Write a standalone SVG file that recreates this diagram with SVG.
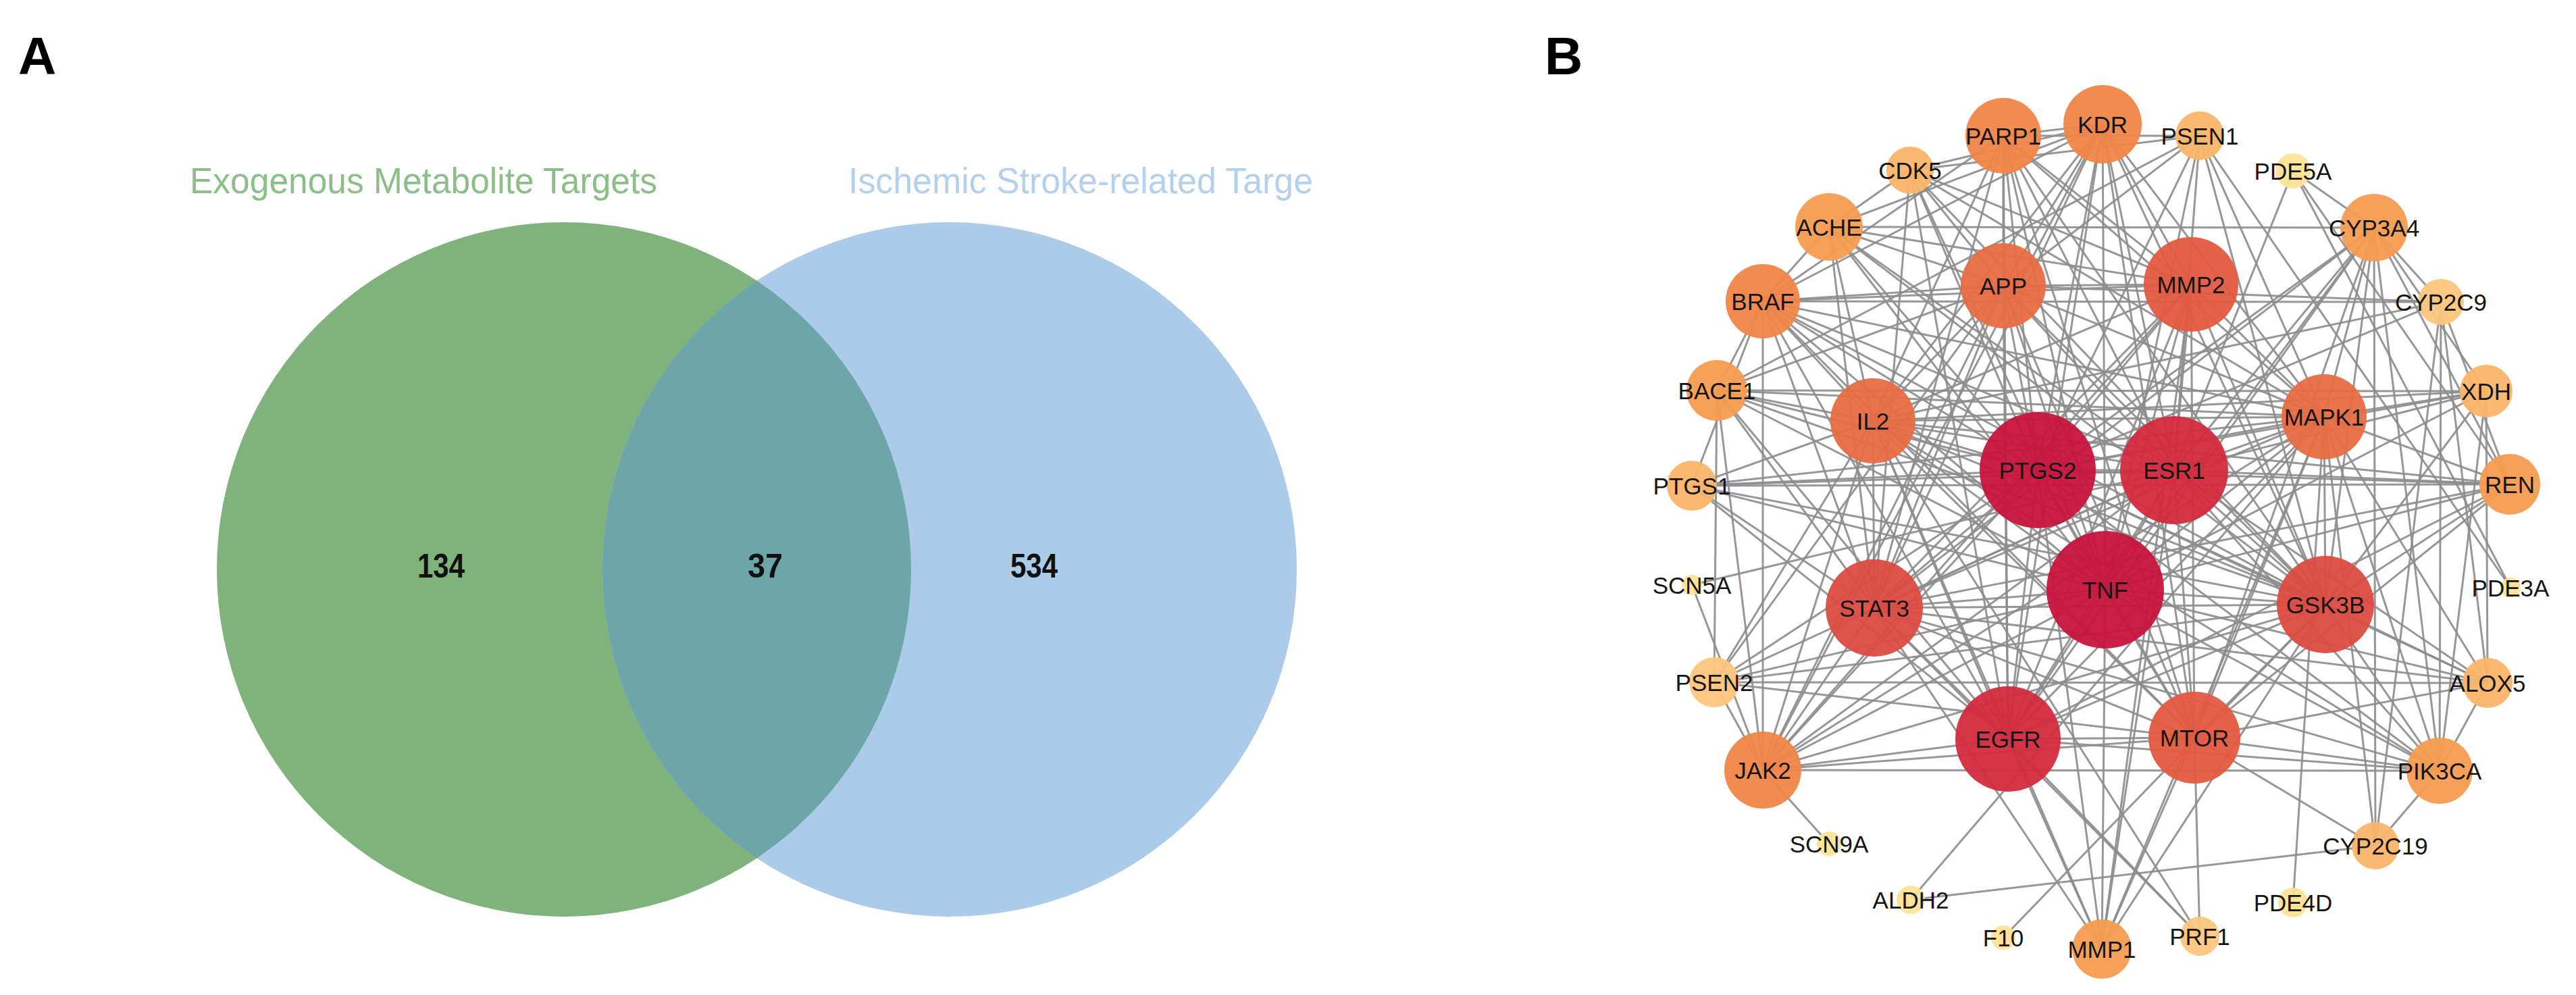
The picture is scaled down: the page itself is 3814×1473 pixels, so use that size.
<svg xmlns="http://www.w3.org/2000/svg" width="3814" height="1473" viewBox="0 0 3814 1473">
<style>
.panel{font-family:"Liberation Sans",Arial,sans-serif;font-weight:bold;font-size:78px;fill:#000}
.setlab{font-family:"Liberation Sans",Arial,sans-serif;font-size:54px}
.num{font-family:"Liberation Sans",Arial,sans-serif;font-weight:bold;font-size:50px;fill:#111;text-anchor:middle}
.edges path{stroke:#8c8c8c;stroke-width:3;fill:none;stroke-opacity:0.9}
.node circle{stroke:none;fill-opacity:0.95}
.node text{font-family:"Liberation Sans",Arial,sans-serif;font-size:35px;fill:#151515;text-anchor:middle}
.c1{fill:#c8143b}.c1b{fill:#d22b3d}.c2{fill:#dc4a40}.c3{fill:#e25a3f}.c3b{fill:#e86b41}
.c4{fill:#f08547}.c5{fill:#f79b51}.c6{fill:#fbb468}.c7{fill:#fcc57b}.c8{fill:#fde394}
</style>
<defs>
<clipPath id="blueClip"><circle cx="1406" cy="843" r="514"/></clipPath>
</defs>
<rect width="3814" height="1473" fill="#fff"/>
<text class="panel" x="27" y="110">A</text>
<text class="panel" x="2287" y="110">B</text>
<g id="venn">
<circle id="setGreen" cx="835" cy="843" r="514" fill="#80b27c"/>
<circle id="setBlue" cx="1406" cy="843" r="514" fill="#abcbe8"/>
<circle id="overlap" cx="835" cy="843" r="514" fill="#6ca6a8" clip-path="url(#blueClip)"/>
<text class="setlab" x="281" y="286" fill="#8cbf88" textLength="692" lengthAdjust="spacingAndGlyphs">Exogenous Metabolite Targets</text>
<text class="setlab" x="1256" y="286" fill="#b3d0ee" textLength="688" lengthAdjust="spacingAndGlyphs">Ischemic Stroke-related Targe</text>
<text class="num" x="653" y="855" textLength="70" lengthAdjust="spacingAndGlyphs">134</text>
<text class="num" x="1133" y="855" textLength="52" lengthAdjust="spacingAndGlyphs">37</text>
<text class="num" x="1531" y="855" textLength="70" lengthAdjust="spacingAndGlyphs">534</text>
</g>
<g id="connectors" class="edges">
<path d="M2966 423L3244 421"/><path d="M2966 423L3441 617"/><path d="M2966 423L3443 895"/><path d="M2966 423L3249 1092"/><path d="M2966 423L2973 1094"/><path d="M2966 423L2775 900"/><path d="M2966 423L2773 623"/><path d="M2966 423L3017 696"/><path d="M2966 423L3219 696"/><path d="M2966 423L3117 873"/>
<path d="M3244 421L3441 617"/><path d="M3244 421L3443 895"/><path d="M3244 421L3249 1092"/><path d="M3244 421L2973 1094"/><path d="M3244 421L2775 900"/><path d="M3244 421L2773 623"/><path d="M3244 421L3017 696"/><path d="M3244 421L3219 696"/><path d="M3244 421L3117 873"/>
<path d="M3441 617L3443 895"/><path d="M3441 617L3249 1092"/><path d="M3441 617L2973 1094"/><path d="M3441 617L2775 900"/><path d="M3441 617L2773 623"/><path d="M3441 617L3017 696"/><path d="M3441 617L3219 696"/><path d="M3441 617L3117 873"/>
<path d="M3443 895L3249 1092"/><path d="M3443 895L2973 1094"/><path d="M3443 895L2775 900"/><path d="M3443 895L2773 623"/><path d="M3443 895L3017 696"/><path d="M3443 895L3219 696"/><path d="M3443 895L3117 873"/>
<path d="M3249 1092L2973 1094"/><path d="M3249 1092L2775 900"/><path d="M3249 1092L2773 623"/><path d="M3249 1092L3017 696"/><path d="M3249 1092L3219 696"/><path d="M3249 1092L3117 873"/>
<path d="M2973 1094L2775 900"/><path d="M2973 1094L2773 623"/><path d="M2973 1094L3017 696"/><path d="M2973 1094L3219 696"/><path d="M2973 1094L3117 873"/>
<path d="M2775 900L2773 623"/><path d="M2775 900L3017 696"/><path d="M2775 900L3219 696"/><path d="M2775 900L3117 873"/>
<path d="M2773 623L3017 696"/><path d="M2773 623L3219 696"/><path d="M2773 623L3117 873"/>
<path d="M3017 696L3219 696"/><path d="M3017 696L3117 873"/><path d="M3219 696L3117 873"/>
<path d="M2966 201L3113 184"/><path d="M2966 201L2966 423"/><path d="M2966 201L3244 421"/><path d="M2966 201L3017 696"/><path d="M2966 201L3219 696"/><path d="M2966 201L3117 873"/><path d="M2966 201L2775 900"/><path d="M2966 201L2973 1094"/><path d="M2966 201L2773 623"/><path d="M2966 201L3443 895"/><path d="M2966 201L3249 1092"/><path d="M2966 201L2610 446"/><path d="M2966 201L3441 617"/>
<path d="M3113 184L2966 423"/><path d="M3113 184L3244 421"/><path d="M3113 184L3017 696"/><path d="M3113 184L3219 696"/><path d="M3113 184L3117 873"/><path d="M3113 184L2973 1094"/><path d="M3113 184L2775 900"/><path d="M3113 184L3441 617"/><path d="M3113 184L3443 895"/><path d="M3113 184L3249 1092"/><path d="M3113 184L2773 623"/><path d="M3113 184L2708 336"/><path d="M3113 184L2610 446"/><path d="M3113 184L2610 1140"/><path d="M3113 184L2828 252"/>
<path d="M3257 201L2966 423"/><path d="M3257 201L3017 696"/><path d="M3257 201L3219 696"/><path d="M3257 201L3117 873"/><path d="M3257 201L3443 895"/><path d="M3257 201L3441 617"/><path d="M3257 201L2542 578"/><path d="M3257 201L2828 252"/><path d="M3257 201L3717 870"/><path d="M3257 201L2966 201"/>
<path d="M3395 253L3515 337"/><path d="M3395 253L3219 696"/><path d="M3395 253L3716 717"/><path d="M3395 253L3717 870"/>
<path d="M3515 337L2708 336"/><path d="M3515 337L3614 447"/><path d="M3515 337L3681 579"/><path d="M3515 337L3716 717"/><path d="M3515 337L3517 1252"/><path d="M3515 337L3612 1141"/><path d="M3515 337L3441 617"/><path d="M3515 337L3443 895"/><path d="M3515 337L3117 873"/><path d="M3515 337L3017 696"/><path d="M3515 337L3219 696"/><path d="M3515 337L2973 1094"/><path d="M3515 337L2775 900"/><path d="M3515 337L3249 1092"/>
<path d="M3614 447L3517 1252"/><path d="M3614 447L3612 1141"/><path d="M3614 447L3683 1011"/><path d="M3614 447L2966 423"/><path d="M3614 447L3017 696"/><path d="M3614 447L2773 623"/><path d="M3614 447L2610 446"/><path d="M3614 447L3716 717"/>
<path d="M3681 579L3683 1011"/><path d="M3681 579L3441 617"/><path d="M3681 579L3017 696"/><path d="M3681 579L3117 873"/><path d="M3681 579L3443 895"/><path d="M3681 579L2773 623"/><path d="M3681 579L3612 1141"/><path d="M3681 579L3219 696"/><path d="M3681 579L2542 578"/>
<path d="M3716 717L3017 696"/><path d="M3716 717L3219 696"/><path d="M3716 717L3117 873"/><path d="M3716 717L2775 900"/><path d="M3716 717L2973 1094"/><path d="M3716 717L3443 895"/><path d="M3716 717L3441 617"/><path d="M3716 717L2773 623"/><path d="M3716 717L3249 1092"/><path d="M3716 717L2505 719"/>
<path d="M3683 1011L3612 1141"/><path d="M3683 1011L3443 895"/><path d="M3683 1011L3117 873"/><path d="M3683 1011L3017 696"/><path d="M3683 1011L3219 696"/><path d="M3683 1011L3441 617"/><path d="M3683 1011L2775 900"/><path d="M3683 1011L3249 1092"/><path d="M3683 1011L2538 1010"/>
<path d="M3612 1141L2610 1140"/><path d="M3612 1141L2973 1094"/><path d="M3612 1141L3249 1092"/><path d="M3612 1141L3117 873"/><path d="M3612 1141L2775 900"/><path d="M3612 1141L3443 895"/><path d="M3612 1141L3441 617"/><path d="M3612 1141L3219 696"/><path d="M3612 1141L3017 696"/><path d="M3612 1141L2773 623"/><path d="M3612 1141L3517 1252"/>
<path d="M3517 1252L2829 1332"/><path d="M3517 1252L3249 1092"/><path d="M3517 1252L3441 617"/>
<path d="M3395 1336L3441 617"/>
<path d="M3257 1386L2973 1094"/><path d="M3257 1386L2775 900"/><path d="M3257 1386L2773 623"/><path d="M3257 1386L3249 1092"/>
<path d="M3112 1405L2973 1094"/><path d="M3112 1405L2775 900"/><path d="M3112 1405L3117 873"/><path d="M3112 1405L3017 696"/><path d="M3112 1405L3219 696"/><path d="M3112 1405L2773 623"/><path d="M3112 1405L3249 1092"/><path d="M3112 1405L3443 895"/><path d="M3112 1405L3441 617"/><path d="M3112 1405L3244 421"/>
<path d="M2966 1388L3443 895"/>
<path d="M2829 1332L3441 617"/>
<path d="M2708 1249L2610 1140"/>
<path d="M2610 1140L2775 900"/><path d="M2610 1140L2973 1094"/><path d="M2610 1140L3017 696"/><path d="M2610 1140L3117 873"/><path d="M2610 1140L2773 623"/><path d="M2610 1140L3249 1092"/><path d="M2610 1140L3219 696"/><path d="M2610 1140L3443 895"/><path d="M2610 1140L2610 446"/><path d="M2610 1140L2538 1010"/><path d="M2610 1140L2505 866"/><path d="M2610 1140L3441 617"/><path d="M2610 1140L3244 421"/><path d="M2610 1140L2966 423"/><path d="M2610 1140L2542 578"/>
<path d="M2538 1010L2542 578"/><path d="M2538 1010L2966 423"/><path d="M2538 1010L3017 696"/><path d="M2538 1010L3219 696"/><path d="M2538 1010L3117 873"/><path d="M2538 1010L3443 895"/><path d="M2538 1010L2773 623"/><path d="M2538 1010L3249 1092"/>
<path d="M2505 866L3219 696"/>
<path d="M2505 719L3017 696"/><path d="M2505 719L2775 900"/><path d="M2505 719L3117 873"/><path d="M2505 719L2973 1094"/><path d="M2505 719L2773 623"/><path d="M2505 719L3219 696"/><path d="M2505 719L3441 617"/><path d="M2505 719L3443 895"/><path d="M2505 719L2610 446"/>
<path d="M2542 578L2966 423"/><path d="M2542 578L2610 446"/><path d="M2542 578L2775 900"/><path d="M2542 578L3117 873"/><path d="M2542 578L2773 623"/><path d="M2542 578L3017 696"/><path d="M2542 578L3443 895"/><path d="M2542 578L3441 617"/><path d="M2542 578L2973 1094"/>
<path d="M2610 446L2708 336"/><path d="M2610 446L3441 617"/><path d="M2610 446L2775 900"/><path d="M2610 446L2973 1094"/><path d="M2610 446L3117 873"/><path d="M2610 446L3017 696"/><path d="M2610 446L3219 696"/><path d="M2610 446L3244 421"/><path d="M2610 446L2966 423"/><path d="M2610 446L2773 623"/><path d="M2610 446L3249 1092"/><path d="M2610 446L3443 895"/>
<path d="M2708 336L2828 252"/><path d="M2708 336L2966 423"/><path d="M2708 336L3017 696"/><path d="M2708 336L3117 873"/><path d="M2708 336L3219 696"/><path d="M2708 336L2773 623"/><path d="M2708 336L2775 900"/><path d="M2708 336L3244 421"/><path d="M2708 336L3443 895"/>
<path d="M2828 252L2966 423"/><path d="M2828 252L3443 895"/><path d="M2828 252L3441 617"/><path d="M2828 252L3117 873"/><path d="M2828 252L2775 900"/><path d="M2828 252L3017 696"/><path d="M2828 252L3244 421"/><path d="M2828 252L2973 1094"/>
</g>
<g id="nodes" class="node">
<g id="n-PARP1"><circle class="c4" cx="2966" cy="201" r="56"/><text x="2966" y="214">PARP1</text></g>
<g id="n-KDR"><circle class="c4" cx="3113" cy="184" r="58"/><text x="3113" y="197">KDR</text></g>
<g id="n-PSEN1"><circle class="c6" cx="3257" cy="201" r="36"/><text x="3257" y="214">PSEN1</text></g>
<g id="n-PDE5A"><circle class="c8" cx="3395" cy="253" r="26"/><text x="3395" y="266">PDE5A</text></g>
<g id="n-CYP3A4"><circle class="c5" cx="3515" cy="337" r="50"/><text x="3515" y="350">CYP3A4</text></g>
<g id="n-CYP2C9"><circle class="c7" cx="3614" cy="447" r="34"/><text x="3614" y="460">CYP2C9</text></g>
<g id="n-XDH"><circle class="c6" cx="3681" cy="579" r="39"/><text x="3681" y="592">XDH</text></g>
<g id="n-REN"><circle class="c5" cx="3716" cy="717" r="45"/><text x="3716" y="730">REN</text></g>
<g id="n-PDE3A"><circle class="c8" cx="3717" cy="870" r="15"/><text x="3717" y="883">PDE3A</text></g>
<g id="n-ALOX5"><circle class="c6" cx="3683" cy="1011" r="37"/><text x="3683" y="1024">ALOX5</text></g>
<g id="n-PIK3CA"><circle class="c5" cx="3612" cy="1141" r="49"/><text x="3612" y="1154">PIK3CA</text></g>
<g id="n-CYP2C19"><circle class="c6" cx="3517" cy="1252" r="35"/><text x="3517" y="1265">CYP2C19</text></g>
<g id="n-PDE4D"><circle class="c8" cx="3395" cy="1336" r="22"/><text x="3395" y="1349">PDE4D</text></g>
<g id="n-PRF1"><circle class="c7" cx="3257" cy="1386" r="29"/><text x="3257" y="1399">PRF1</text></g>
<g id="n-MMP1"><circle class="c5" cx="3112" cy="1405" r="44"/><text x="3112" y="1418">MMP1</text></g>
<g id="n-F10"><circle class="c8" cx="2966" cy="1388" r="18"/><text x="2966" y="1401">F10</text></g>
<g id="n-ALDH2"><circle class="c8" cx="2829" cy="1332" r="21"/><text x="2829" y="1345">ALDH2</text></g>
<g id="n-SCN9A"><circle class="c8" cx="2708" cy="1249" r="18"/><text x="2708" y="1262">SCN9A</text></g>
<g id="n-JAK2"><circle class="c4" cx="2610" cy="1140" r="57"/><text x="2610" y="1153">JAK2</text></g>
<g id="n-PSEN2"><circle class="c7" cx="2538" cy="1010" r="37"/><text x="2538" y="1023">PSEN2</text></g>
<g id="n-SCN5A"><circle class="c8" cx="2505" cy="866" r="15"/><text x="2505" y="879">SCN5A</text></g>
<g id="n-PTGS1"><circle class="c6" cx="2505" cy="719" r="37"/><text x="2505" y="732">PTGS1</text></g>
<g id="n-BACE1"><circle class="c5" cx="2542" cy="578" r="45"/><text x="2542" y="591">BACE1</text></g>
<g id="n-BRAF"><circle class="c4" cx="2610" cy="446" r="55"/><text x="2610" y="459">BRAF</text></g>
<g id="n-ACHE"><circle class="c5" cx="2708" cy="336" r="50"/><text x="2708" y="349">ACHE</text></g>
<g id="n-CDK5"><circle class="c6" cx="2828" cy="252" r="35"/><text x="2828" y="265">CDK5</text></g>
<g id="n-APP"><circle class="c3b" cx="2966" cy="423" r="63"/><text x="2966" y="436">APP</text></g>
<g id="n-MMP2"><circle class="c3" cx="3244" cy="421" r="70"/><text x="3244" y="434">MMP2</text></g>
<g id="n-MAPK1"><circle class="c3b" cx="3441" cy="617" r="63"/><text x="3441" y="630">MAPK1</text></g>
<g id="n-GSK3B"><circle class="c2" cx="3443" cy="895" r="72"/><text x="3443" y="908">GSK3B</text></g>
<g id="n-MTOR"><circle class="c3" cx="3249" cy="1092" r="68"/><text x="3249" y="1105">MTOR</text></g>
<g id="n-EGFR"><circle class="c1b" cx="2973" cy="1094" r="78"/><text x="2973" y="1107">EGFR</text></g>
<g id="n-STAT3"><circle class="c2" cx="2775" cy="900" r="72"/><text x="2775" y="913">STAT3</text></g>
<g id="n-IL2"><circle class="c3b" cx="2773" cy="623" r="63"/><text x="2773" y="636">IL2</text></g>
<g id="n-PTGS2"><circle class="c1" cx="3017" cy="696" r="86"/><text x="3017" y="709">PTGS2</text></g>
<g id="n-ESR1"><circle class="c1b" cx="3219" cy="696" r="80"/><text x="3219" y="709">ESR1</text></g>
<g id="n-TNF"><circle class="c1" cx="3117" cy="873" r="87"/><text x="3117" y="886">TNF</text></g>
</g>
</svg>
